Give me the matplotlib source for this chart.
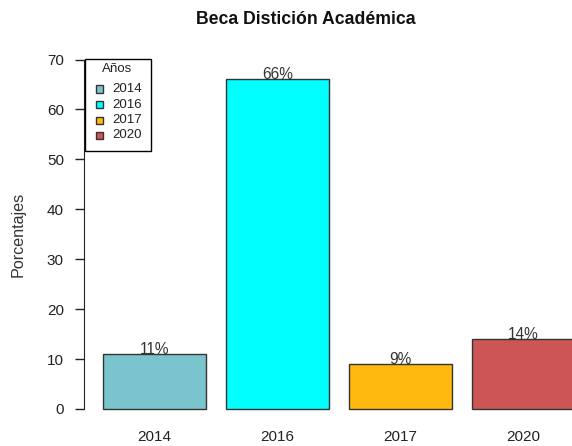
import matplotlib
matplotlib.use("Agg")
import matplotlib.pyplot as plt
from matplotlib.patches import Rectangle

plt.rcParams['font.family'] = ['Liberation Sans', 'DejaVu Sans']

# Data
years = ["2014", "2016", "2017", "2020"]
percentages = [11, 66, 9, 14]
colors = ["#7AC5CD", "#00FFFF", "#FFB90F", "#CD5555"]
title = "Beca Distición Académica"
ylabel = "Porcentajes"
legend_title = "Años"

W, H = 572, 446
fig = plt.figure(figsize=(W / 100, H / 100), dpi=100)


def fx(x):
    """Figure fraction from a pixel column."""
    return x / W


def fy(y):
    """Figure fraction from a pixel row counted from the top."""
    return 1 - y / H


# Plot region (R-style barplot: width 1, space 0.2)
unit = 102.5          # pixels per bar width
x0_px = 82.5          # pixel column of x = 0
left_px = 84
y0_px, y70_px = 409, 59.5
ax = fig.add_axes([fx(left_px), fy(y0_px), 1 - fx(left_px), (y0_px - y70_px) / H])
ax.set_xlim((left_px - x0_px) / unit, (W - x0_px) / unit)
ax.set_ylim(0, 70)

space, width = 0.2, 1.0
lefts = [space + i * (width + space) for i in range(len(years))]
centers = [l + width / 2 for l in lefts]

ax.bar(lefts, percentages, width=width, align='edge', color=colors,
       edgecolor='#333333', linewidth=1.0, clip_on=False)

for c, v in zip(centers, percentages):
    ax.text(c, v, f"{v}%", ha='center', va='baseline', fontsize=11.2,
            color='#333333')

for s in ['top', 'right', 'bottom']:
    ax.spines[s].set_visible(False)
ax.spines['left'].set_bounds(0, 70)
ax.spines['left'].set_color('#222222')

ax.set_yticks(range(0, 71, 10))
ax.tick_params(axis='y', length=6.5, width=1, pad=8, labelsize=11,
               colors='#222222')
ax.set_xticks(centers, years)
ax.tick_params(axis='x', length=0, pad=15, labelsize=11, colors='#222222')

fig.text(fx(306), fy(20), title, ha='center', va='center',
         fontsize=12.7, fontweight='bold', color='#111111')
fig.text(fx(18), fy(234.5), ylabel, rotation=90, ha='center',
         va='center', fontsize=11.6, color='#333333')

# Legend box, drawn in figure pixels
box_l, box_r, box_t, box_b = 84.5, 151, 58.5, 151
fig.add_artist(Rectangle((fx(box_l), fy(box_b)), fx(box_r) - fx(box_l),
                         fy(box_t) - fy(box_b), transform=fig.transFigure,
                         facecolor='white', edgecolor='black', linewidth=1.0,
                         zorder=5))
fig.text(fx(117.5), fy(69.5), legend_title, ha='center', va='center',
         fontsize=9.5, color='#222222', zorder=6)
row_y = [89, 104.5, 120, 135.5]
sq = 7
for yr, col, ry in zip(years, colors, row_y):
    fig.add_artist(Rectangle((fx(96), fy(ry + sq / 2)), sq / W, sq / H,
                             transform=fig.transFigure, facecolor=col,
                             edgecolor='#333333', linewidth=1.0, zorder=6))
    fig.text(fx(112), fy(ry), yr, ha='left', va='center', fontsize=9.5,
             color='#222222', zorder=6)

fig.savefig("out.png", dpi=100)
